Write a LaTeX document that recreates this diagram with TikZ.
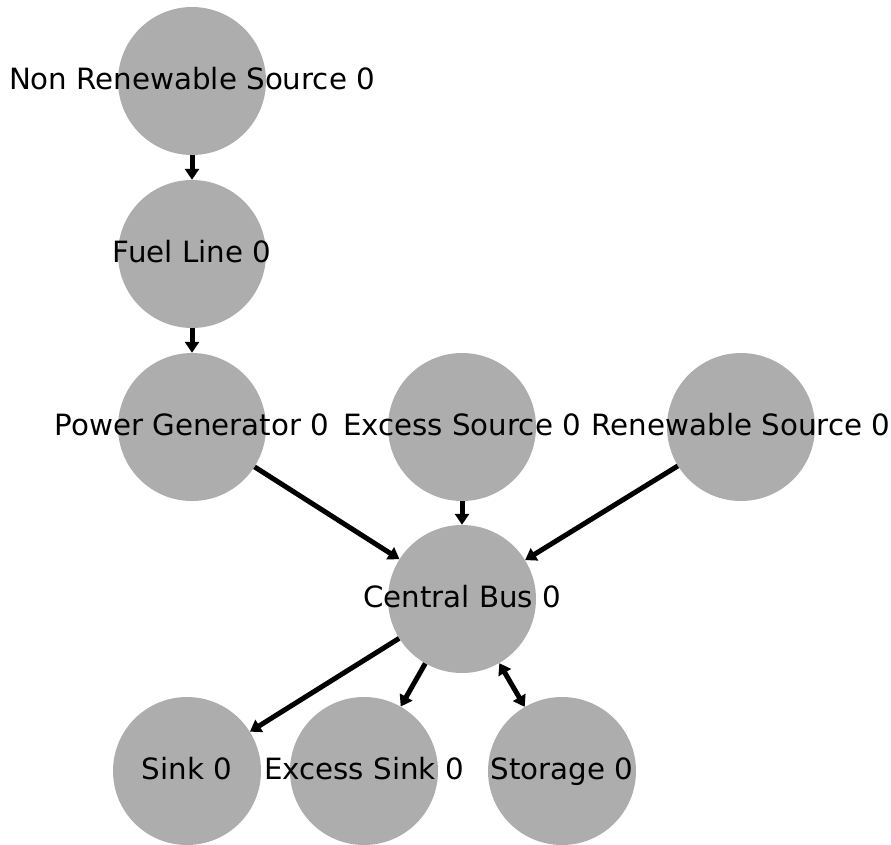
\documentclass[tikz,border=0pt]{standalone}
\usepackage{fontspec}
\setmainfont{DejaVu Sans}
\usetikzlibrary{arrows.meta}
\begin{document}
\begin{tikzpicture}[x=1pt,y=-1pt,
  comp/.style={circle,fill=black!32,minimum size=148pt,inner sep=0pt,
    label={[font=\fontsize{29.3}{35}\selectfont,text height=0.73em,text depth=0.23em,inner sep=0pt,yshift=-6pt]center:#1}},
  flow/.style={line width=5pt,-{Triangle[length=11pt,width=14pt]}}]
\useasboundingbox (0,0) rectangle (891,844);
\node [comp={Non Renewable Source 0}] (nrs) at (192,81) {};
\node [comp={Fuel Line 0}] (fuel) at (192,254) {};
\node [comp={Power Generator 0}] (gen) at (192,427) {};
\node [comp={Excess Source 0}] (xsrc) at (462,427) {};
\node [comp={Renewable Source 0}] (rs) at (741,427) {};
\node [comp={Central Bus 0}] (bus) at (462,599) {};
\node [comp={Sink 0}] (sink) at (187,771) {};
\node [comp={Excess Sink 0}] (xsink) at (364,771) {};
\node [comp={Storage 0}] (stor) at (562,771) {};
\draw [flow] (nrs) -- (fuel);
\draw [flow] (fuel) -- (gen);
\draw [flow] (gen) -- (bus);
\draw [flow] (xsrc) -- (bus);
\draw [flow] (rs) -- (bus);
\draw [flow] (bus) -- (sink);
\draw [flow] (bus) -- (xsink);
\draw [flow,{Triangle[length=11pt,width=14pt]}-{Triangle[length=11pt,width=14pt]}] (bus) -- (stor);
\end{tikzpicture}
\end{document}
